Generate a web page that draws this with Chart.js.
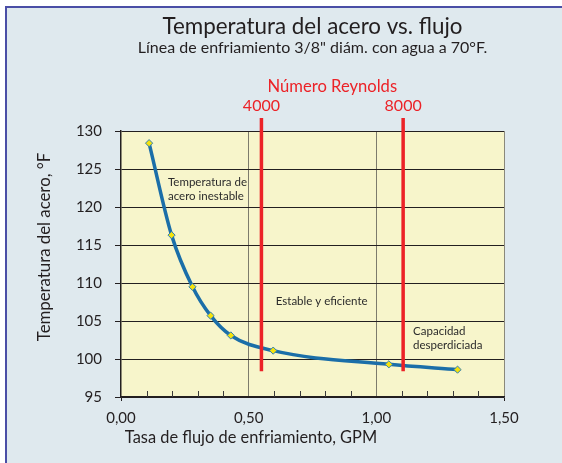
<!DOCTYPE html>
<html><head><meta charset="utf-8">
<script src="https://cdn.jsdelivr.net/npm/chart.js@4/dist/chart.umd.min.js"></script>
<style>
html,body{margin:0;padding:0;background:#fff;overflow:hidden;}
#frame{position:absolute;left:5px;top:6px;width:557px;height:457px;background:#dfe9ee;border-left:2px solid #4a4ea6;border-top:2px solid #4a4ea6;box-sizing:border-box;}
#c{position:absolute;left:0;top:0;}
</style></head><body>
<div id="frame"></div>
<canvas id="c" width="562" height="463"></canvas>
<script>
// ---- data ----
const flowGPM = [0.110, 0.198, 0.280, 0.351, 0.430, 0.596, 1.049, 1.318];
const steelTempF = [128.4, 116.3, 109.5, 105.7, 103.1, 101.1, 99.3, 98.6];
const reynoldsLabels = ['4000', '8000'];
const reynoldsFlow = [0.55, 1.105];
const reynoldsSpan = [131.7, 98.4];
const minorXTicks = [0.1, 0.2, 0.3, 0.4, 0.6, 0.7, 0.8, 0.9, 1.1, 1.2, 1.3, 1.4];
const regionNotes = [['Temperatura de', 'acero inestable'], ['Estable y eficiente'], ['Capacidad', 'desperdiciada']];
const chartTitle = 'Temperatura del acero vs. flujo';
const chartSubtitle = 'Línea de enfriamiento 3/8" diám. con agua a 70°F.';
const xTitle = 'Tasa de flujo de enfriamiento, GPM';
const yTitle = 'Temperatura del acero, °F';

const FONT = 'Lato, "Liberation Sans", sans-serif';
const DARK = '#231f20';
const RED = '#ec2227';

const extras = {
  id: 'extras',
  beforeDraw(chart) {
    const a = chart.chartArea, c = chart.ctx;
    c.save();
    c.fillStyle = '#f7f5cb';
    c.fillRect(a.left, a.top, a.right - a.left, a.bottom - a.top);
    c.restore();
  },
  afterDraw(chart) {
    const c = chart.ctx, xs = chart.scales.x, ys = chart.scales.y, a = chart.chartArea;
    const cx = (a.left + a.right) / 2;
    c.save();
    // titles
    c.fillStyle = DARK; c.textAlign = 'center'; c.textBaseline = 'middle';
    c.font = '22.4px ' + FONT;
    c.fillText(chartTitle, cx, 27);
    c.font = '16px ' + FONT;
    c.fillText(chartSubtitle, cx, 48);
    // minor ticks (inward)
    c.strokeStyle = '#3a3a3a'; c.lineWidth = 1;
    minorXTicks.forEach(v => {
      const px = Math.round(xs.getPixelForValue(v)) + 0.5;
      c.beginPath(); c.moveTo(px, a.bottom); c.lineTo(px, a.bottom - 6); c.stroke();
    });
    // Reynolds labels
    c.fillStyle = RED;
    c.font = '16.6px ' + FONT;
    const p0 = xs.getPixelForValue(reynoldsFlow[0]), p1 = xs.getPixelForValue(reynoldsFlow[1]);
    c.fillText('Número Reynolds', (p0 + p1) / 2, 87);
    c.font = '16px ' + FONT;
    reynoldsLabels.forEach((t, i) => c.fillText(t, xs.getPixelForValue(reynoldsFlow[i]), 106));
    // region notes
    c.fillStyle = '#2b2b2b'; c.textAlign = 'left'; c.font = '11.5px ' + FONT;
    const pos = [[0.184, 123.3], [0.606, 107.6], [1.144, 103.7]];
    regionNotes.forEach((lines, i) => {
      lines.forEach((t, j) => c.fillText(t, xs.getPixelForValue(pos[i][0]), ys.getPixelForValue(pos[i][1]) + j * 14.3));
    });
    // axis titles
    c.fillStyle = DARK; c.font = '16.4px ' + FONT; c.textAlign = 'center';
    c.fillText(xTitle, 251, 438);
    c.translate(45, 247); c.rotate(-Math.PI / 2);
    c.font = '16.8px ' + FONT;
    c.fillText(yTitle, 0, 0);
    c.restore();
  }
};

function build() {
  new Chart(document.getElementById('c'), {
    type: 'line',
    data: {
      datasets: [
        {
          data: flowGPM.map((x, i) => ({ x, y: steelTempF[i] })),
          borderColor: '#1b6ea8', borderWidth: 3.5,
          cubicInterpolationMode: 'monotone',
          pointStyle: 'rectRot', pointRadius: 3.6,
          pointBackgroundColor: '#f4e20c', pointBorderColor: '#2f7fb5', pointBorderWidth: 1,
          order: 1
        },
        ...reynoldsFlow.map(x => ({
          data: [{ x, y: reynoldsSpan[0] }, { x, y: reynoldsSpan[1] }],
          borderColor: RED, borderWidth: 3.5, pointRadius: 0, clip: false, order: 0
        }))
      ]
    },
    options: {
      responsive: false, animation: false,
      layout: { padding: { left: 0, right: 58, top: 131, bottom: 0 } },
      plugins: {
        legend: { display: false }, tooltip: { enabled: false },
        title: { display: false }, subtitle: { display: false }
      },
      scales: {
        x: {
          type: 'linear', min: 0, max: 1.5,
          afterFit(s) { s.height = 66; },
          ticks: { stepSize: 0.5, color: DARK, padding: 8, font: { family: FONT, size: 15 },
            callback: v => v.toFixed(2).replace('.', ',') },
          grid: {
            color: ctx => (ctx.tick && (ctx.tick.value === 0.5 || ctx.tick.value === 1)) ? '#7d7b6c' : (ctx.tick && ctx.tick.value === 1.5 ? '#8a887a' : 'transparent'),
            tickColor: ctx => (ctx.tick && (ctx.tick.value === 0 || ctx.tick.value === 1.5)) ? DARK : 'transparent',
            tickLength: 4, lineWidth: 1
          },
          border: { color: DARK, width: 1.5 }
        },
        y: {
          min: 95, max: 130,
          afterFit(s) { s.width = 121; },
          ticks: { stepSize: 5, color: DARK, padding: 13, font: { family: FONT, size: 15 } },
          grid: { color: DARK, tickColor: DARK, tickLength: 6, lineWidth: 1 },
          border: { color: DARK, width: 1.5 }
        }
      }
    },
    plugins: [extras]
  });
}
if (document.fonts && document.fonts.load) {
  Promise.all([document.fonts.load('15px Lato'), document.fonts.load('22px Lato')]).then(build, build);
} else build();
</script>
</body></html>
